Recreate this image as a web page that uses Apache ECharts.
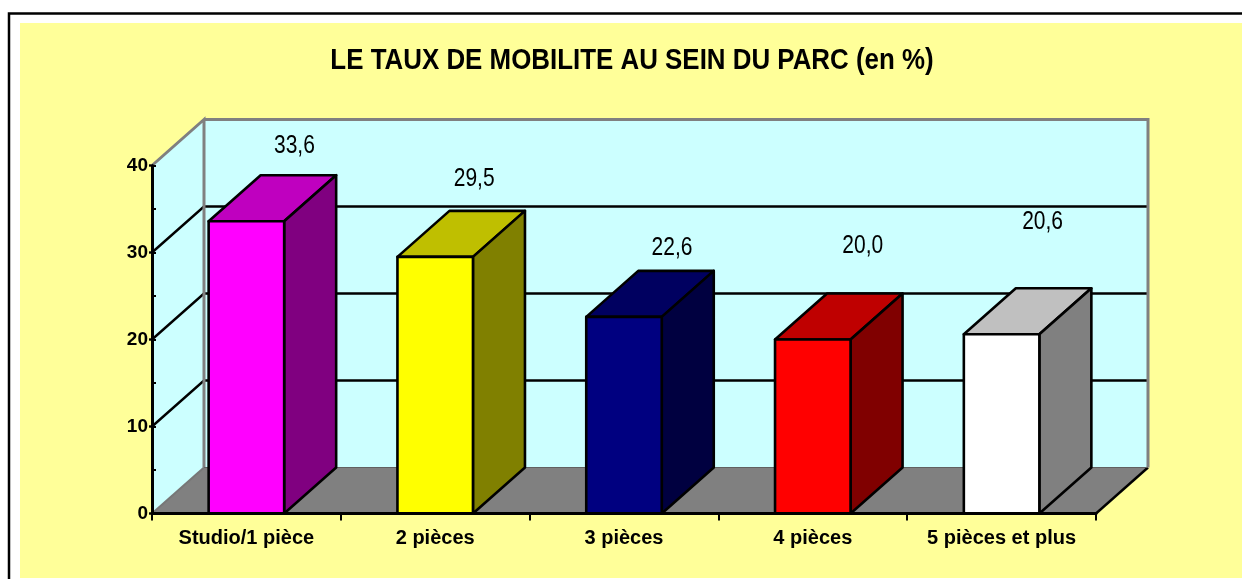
<!DOCTYPE html>
<html lang="fr">
<head>
    <meta charset="UTF-8">
    <title>Taux de mobilite</title>
    <script src="https://cdn.jsdelivr.net/npm/echarts@6/dist/echarts.min.js"></script>
    <style>
        html, body { margin: 0; padding: 0; background: #fff; }
    </style>
</head>
<body>
<div style="width:1242px;height:579px" id="mydiv1"></div>
<script>
var categories = ['Studio/1 pièce', '2 pièces', '3 pièces', '4 pièces', '5 pièces et plus'];
var tauxValues = [33.6, 29.5, 22.6, 20.0, 20.6];
var yTicks = [0, 10, 20, 30, 40];

// front, top, side of each bar
var frontColors = ['#FF00FF', '#FFFF00', '#000080', '#FF0000', '#FFFFFF'];
var topColors = ['#BF00BF', '#BFBF00', '#000060', '#BF0000', '#C0C0C0'];
var sideColors = ['#800080', '#808000', '#000040', '#800000', '#808080'];

// depth of the fake 3d box, in px
var depthX = 52;
var depthY = 46;
// the labels sit by hand in the original, not on the bars
var labelNudge = [[48, -75], [39, -78], [48, -69], [50, -93], [41, -112]];

var AXIS_FONT = '"Liberation Sans", Arial, sans-serif';

function pts(list) {
    return { points: list };
}

function renderWalls(params, api) {
    var cs = params.coordSys;
    var x0 = cs.x, x1 = cs.x + cs.width;
    var y0 = api.coord([0, 0])[1];
    var yMax = api.coord([0, 40])[1];
    var backL = x0 + depthX, backR = x1 + depthX;
    var backB = y0 - depthY, backT = yMax - depthY;
    var kids = [];
    // left wall and back wall
    kids.push({ type: 'polygon', shape: pts([[x0, y0], [backL, backB], [backL, backT], [x0, yMax]]),
        style: { fill: '#CCFFFF', stroke: null } });
    kids.push({ type: 'rect', shape: { x: backL, y: backT, width: cs.width, height: y0 - yMax },
        style: { fill: '#CCFFFF', stroke: null } });
    // floor
    kids.push({ type: 'polygon', shape: pts([[x0, y0], [x1, y0], [backR, backB], [backL, backB]]),
        style: { fill: '#808080', stroke: null } });
    kids.push({ type: 'polyline', shape: pts([[x1, y0], [backR, backB]]),
        style: { fill: null, stroke: '#000', lineWidth: 2.4 } });
    kids.push({ type: 'polyline', shape: pts([[x0, y0], [backL, backB]]),
        style: { fill: null, stroke: '#777', lineWidth: 2 } });
    // gridlines, round the corner
    yTicks.forEach(function (v) {
        var y = api.coord([0, v])[1];
        kids.push({ type: 'line', shape: { x1: x0 - 3, y1: y, x2: x0, y2: y }, style: { stroke: '#000', lineWidth: 2.4 } });
        if (v === 0 || v === 40) return;
        kids.push({ type: 'polyline', shape: pts([[x0, y], [backL, y - depthY], [backR, y - depthY]]),
            style: { fill: null, stroke: '#000', lineWidth: 2.4 } });
    });
    // wall edges go over the gridlines
    kids.push({ type: 'polyline', shape: pts([[x0, yMax], [backL, backT], [backL, backB]]),
        style: { fill: null, stroke: '#808080', lineWidth: 3 } });
    kids.push({ type: 'polyline', shape: pts([[backL, backT], [backR, backT], [backR, backB]]),
        style: { fill: null, stroke: '#808080', lineWidth: 3 } });
    kids.push({ type: 'line', shape: { x1: backL, y1: backB, x2: backR, y2: backB },
        style: { stroke: '#606060', lineWidth: 1 } });
    return { type: 'group', children: kids };
}

function renderBar(params, api) {
    var i = params.dataIndex;
    var val = api.value(1);
    var top = api.coord([i, val]);
    var base = api.coord([i, 0]);
    var w = api.size([1, 0])[0] * 0.4;
    var l = top[0] - w / 2, r = top[0] + w / 2;
    var line = { stroke: '#000', lineWidth: 2.6, lineJoin: 'round' };
    return {
        type: 'group',
        children: [
            { type: 'polygon', shape: pts([[l, top[1]], [l + depthX, top[1] - depthY], [r + depthX, top[1] - depthY], [r, top[1]]]),
                style: Object.assign({ fill: topColors[i] }, line) },
            { type: 'polygon', shape: pts([[r, top[1]], [r + depthX, top[1] - depthY], [r + depthX, base[1] - depthY], [r, base[1]]]),
                style: Object.assign({ fill: sideColors[i] }, line) },
            { type: 'rect', shape: { x: l, y: top[1], width: w, height: base[1] - top[1] },
                style: Object.assign({ fill: frontColors[i] }, line) },
            { type: 'text', x: top[0] + labelNudge[i][0], y: top[1] + labelNudge[i][1], scaleX: 0.84,
                style: { text: val.toFixed(1).replace('.', ','), fill: '#000', align: 'center', verticalAlign: 'middle',
                    font: '25px "Liberation Sans", sans-serif' } }
        ]
    };
}

var myChart = echarts.init(document.getElementById('mydiv1'));
var option = {
    animation: false,
    backgroundColor: '#fff',
    graphic: [
        { type: 'rect', z: -10, shape: { x: 9, y: 13.5, width: 1300, height: 600 }, style: { fill: '#fff', stroke: '#000', lineWidth: 2.5 } },
        { type: 'rect', z: -9, shape: { x: 20, y: 23, width: 1222, height: 555 }, style: { fill: '#FFFF99' } },
        { type: 'text', z: 10, x: 632, y: 61, scaleX: 0.893,
            style: { text: 'LE TAUX DE MOBILITE AU SEIN DU PARC (en %)', fill: '#000', align: 'center', verticalAlign: 'middle',
                font: 'bold 29px "Liberation Sans", sans-serif' } }
    ],
    grid: { left: 152, right: 146, top: 165.5, bottom: 65.5 },
    xAxis: {
        type: 'category',
        data: categories,
        z: 5,
        axisLine: { lineStyle: { color: '#000', width: 3 } },
        axisTick: { show: true, interval: 0, alignWithLabel: false, length: 7, lineStyle: { color: '#000', width: 2 } },
        axisLabel: { color: '#000', fontFamily: AXIS_FONT, fontWeight: 'bold', fontSize: 20, margin: 15, interval: 0 }
    },
    yAxis: {
        type: 'value',
        min: 0,
        max: 40,
        interval: 10,
        z: 5,
        splitLine: { show: false },
        axisLine: { show: true, lineStyle: { color: '#000', width: 3 } },
        axisTick: { show: true, inside: true, length: 4, lineStyle: { color: '#000', width: 2 } },
        minorTick: { show: true, splitNumber: 2, length: 4, lineStyle: { color: '#000', width: 2 } },
        axisLabel: { color: '#000', fontFamily: AXIS_FONT, fontWeight: 'bold', fontSize: 19, margin: 4, padding: [7, 0, 0, 0] }
    },
    series: [
        { type: 'custom', z: 1, silent: true, renderItem: renderWalls, data: [[0, 0]], clip: false },
        {
            type: 'custom',
            z: 3,
            silent: true,
            renderItem: renderBar,
            clip: false,
            encode: { x: 0, y: 1 },
            data: tauxValues.map(function (v, i) { return [i, v]; })
        }
    ]
};
myChart.setOption(option);
</script>
</body>
</html>
